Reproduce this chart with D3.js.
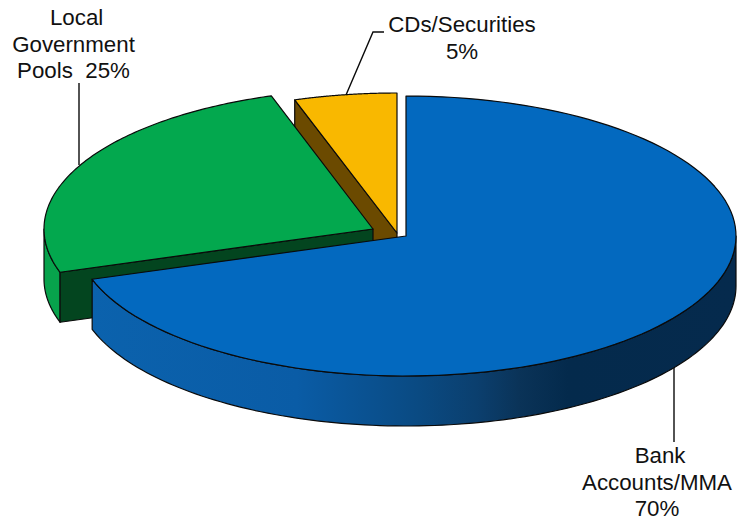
<!DOCTYPE html>
<html>
<head>
<meta charset="utf-8">
<script src="https://d3js.org/d3.v7.min.js"></script>
<style>
html, body { margin: 0; padding: 0; background: #fff; }
svg { display: block; }
text { font-family: "Liberation Sans", Arial, sans-serif; font-size: 22.3px; fill: #111; text-anchor: middle; white-space: pre; }
</style>
</head>
<body>
<svg id="chart" width="741" height="524"></svg>
<script>
// Cash and investment allocation
const categories = ["Bank Accounts/MMA", "Local Government Pools", "CDs/Securities"];
const shares = [70, 25, 5];
const topColors = ["#0369bf", "#03a84e", "#f9b800"];
const cutColors = ["#0a4f8e", "#03451f", "#6b4a00"];

// Tilted-disc projection: each slice has its own exploded hub
const RY = 140, DEPTH = 50;
const radii = [330, 329, 331];
const hubs = [[406, 236], [373, 229], [397, 233]];

const svg = d3.select("#chart");
const slices = d3.pie().sort(null).value(d => d)(shares);

const defs = svg.append("defs");
const rim = defs.append("linearGradient").attr("id", "blueRim")
  .attr("gradientUnits", "userSpaceOnUse")
  .attr("x1", 90).attr("x2", 736).attr("y1", 0).attr("y2", 0);
[[0, "#0b62ad"], [0.32, "#0a5ca6"], [0.51, "#0a4a82"], [0.6, "#0b3f6e"], [0.665, "#0a3358"], [0.74, "#042a4c"], [1, "#052a4d"]]
  .forEach(([o, c]) => rim.append("stop").attr("offset", o).attr("stop-color", c));

const project = (i, a, drop = 0) => [hubs[i][0] + radii[i] * Math.sin(a), hubs[i][1] - RY * Math.cos(a) + drop];
const curve = (i, a0, a1, drop = 0) =>
  d3.range(0, 121).map(k => project(i, a0 + (a1 - a0) * k / 120, drop));
const line = d3.line();
const style = (sel, fill) => sel.attr("fill", fill).attr("stroke", "#0a0a0a")
  .attr("stroke-width", 1.2).attr("stroke-linejoin", "round");

const topFace = (i) => line([hubs[i], ...curve(i, slices[i].startAngle, slices[i].endAngle)]) + "Z";
const outerWall = (i, a0, a1) =>
  line([...curve(i, a0, a1), ...curve(i, a1, a0, DEPTH)]) + "Z";
const cutWall = (i, a) => {
  const h = hubs[i], p = project(i, a);
  return line([h, p, [p[0], p[1] + DEPTH], [h[0], h[1] + DEPTH]]) + "Z";
};

// Back to front: yellow, green, then the large blue slice
style(svg.append("path").attr("d", cutWall(2, slices[2].startAngle)), cutColors[2]);
style(svg.append("path").attr("d", topFace(2)), topColors[2]);

style(svg.append("path").attr("d", outerWall(1, slices[1].startAngle, 1.5 * Math.PI)), "#07a34c");
style(svg.append("path").attr("d", cutWall(1, slices[1].startAngle)), cutColors[1]);
style(svg.append("path").attr("d", topFace(1)), topColors[1]);

style(svg.append("path").attr("d", outerWall(0, Math.PI / 2, slices[0].endAngle)), "url(#blueRim)");
style(svg.append("path").attr("d", topFace(0)), topColors[0]);

// Leader lines
const leaders = [
  [[674, 368], [674, 442]],
  [[79, 83], [79, 165]],
  [[346, 95], [373, 32], [384, 32]]
];
svg.selectAll("path.leader").data(leaders).join("path")
  .attr("class", "leader").attr("d", line)
  .attr("fill", "none").attr("stroke", "#0a0a0a").attr("stroke-width", 1.4);

// Labels
const labelLines = [
  [" Bank", "Accounts/MMA", shares[0] + "%"],
  [" Local", "Government", "Pools  " + shares[1] + "%"],
  ["CDs/Securities", shares[2] + "%"]
];
const labelAnchors = [[657, 463], [73.5, 25], [462, 32]];
labelLines.forEach((rows, i) => {
  svg.append("g").attr("aria-label", categories[i])
    .selectAll("text").data(rows).join("text")
    .attr("x", labelAnchors[i][0])
    .attr("y", (d, j) => labelAnchors[i][1] + j * 26.6)
    .text(d => d);
});
</script>
</body>
</html>
